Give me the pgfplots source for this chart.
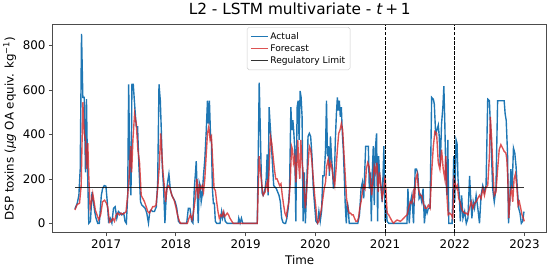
\documentclass[border=0pt]{standalone}
\usepackage{pgfplots}
\pgfplotsset{compat=1.18}
\usepackage{fontspec}
\setmainfont{DejaVu Sans}
\definecolor{tabblue}{HTML}{1F77B4}
\definecolor{tabred}{HTML}{D62728}
\begin{document}
\begin{tikzpicture}
\begin{axis}[
 scale only axis, width=500bp, height=210.6bp,
 xmin=2016.23, xmax=2023.32, ymin=-42.6, ymax=895,
 xtick={2017,2018,2019,2020,2021,2022,2023}, ytick={0,200,400,600,800},
 xticklabel style={/pgf/number format/1000 sep={}},
 /pgf/number format/assume math mode=true,
 tick align=outside, major tick length=3.5bp,
 tick style={black!70, line width=0.8bp},
 xtick pos=bottom, ytick pos=left,
 axis line style={black!70, line width=0.8bp},
 ticklabel style={font=\fontsize{12bp}{14bp}\selectfont},
 label style={font=\fontsize{12bp}{14bp}\selectfont},
 title style={font=\fontsize{15.5bp}{17bp}\selectfont},
 title={L2 - LSTM multivariate - \textit{t}\,+\,1},
 xlabel={Time},
 ylabel={DSP toxins (\textit{μg} OA equiv. kg\textsuperscript{−1})},
 legend style={at={(0.498,0.988)}, anchor=north, font=\fontsize{9.2bp}{11bp}\selectfont,
   draw=black!20, rounded corners=2bp, fill=white, fill opacity=0.8, text opacity=1,
   draw opacity=1, cells={anchor=west}, inner sep=3bp},
 legend image post style={line width=1.5bp},
]
\addplot[tabblue, line width=1.4bp] table {
2016.552 65
2016.585 90
2016.609 126
2016.628 244
2016.647 853
2016.666 567
2016.685 567
2016.704 229
2016.718 559
2016.732 258
2016.751 0
2016.775 9
2016.798 141
2016.817 97
2016.836 53
2016.855 23
2016.879 0
2016.902 0
2016.931 126
2016.949 156
2016.973 170
2016.997 167
2017.016 97
2017.035 9
2017.058 23
2017.082 1
2017.106 68
2017.129 75
2017.153 23
2017.176 53
2017.200 46
2017.224 38
2017.252 46
2017.271 9
2017.290 0
2017.309 126
2017.323 626
2017.342 185
2017.356 126
2017.370 626
2017.389 626
2017.408 537
2017.432 435
2017.451 435
2017.470 258
2017.493 97
2017.512 82
2017.536 75
2017.559 68
2017.583 46
2017.607 1
2017.626 53
2017.644 60
2017.668 53
2017.692 53
2017.720 75
2017.739 185
2017.758 626
2017.777 552
2017.791 420
2017.805 258
2017.824 156
2017.843 1
2017.862 126
2017.881 185
2017.900 222
2017.919 156
2017.942 126
2017.966 112
2017.990 97
2018.013 68
2018.037 9
2018.061 0
2018.155 0
2018.179 68
2018.202 68
2018.226 9
2018.245 1
2018.264 156
2018.278 214
2018.292 280
2018.306 141
2018.321 1
2018.335 185
2018.349 170
2018.363 97
2018.377 126
2018.396 214
2018.415 288
2018.434 405
2018.453 552
2018.467 449
2018.481 552
2018.496 405
2018.510 361
2018.524 156
2018.538 90
2018.552 90
2018.566 9
2018.585 0
2018.633 0
2018.656 53
2018.670 23
2018.689 46
2018.708 9
2018.737 0
2018.893 0
2018.902 23
2018.921 1
2018.940 23
2018.959 0
2019.167 0
2019.181 302
2019.195 633
2019.209 449
2019.224 229
2019.238 134
2019.252 126
2019.266 141
2019.280 156
2019.295 200
2019.309 310
2019.323 126
2019.337 523
2019.351 449
2019.366 376
2019.384 273
2019.403 170
2019.422 163
2019.441 156
2019.460 141
2019.479 126
2019.498 97
2019.517 23
2019.536 4
2019.555 0
2019.574 0
2019.592 23
2019.611 68
2019.630 156
2019.649 523
2019.663 420
2019.678 464
2019.692 405
2019.706 332
2019.720 9
2019.739 523
2019.753 552
2019.767 376
2019.782 596
2019.796 567
2019.810 479
2019.824 9
2019.843 229
2019.857 0
2019.876 156
2019.895 391
2019.914 405
2019.933 391
2019.952 302
2019.971 156
2019.990 82
2020.009 9
2020.032 0
2020.051 53
2020.070 9
2020.089 53
2020.108 214
2020.127 214
2020.146 332
2020.160 552
2020.174 302
2020.188 347
2020.202 214
2020.217 391
2020.231 302
2020.245 244
2020.259 156
2020.273 200
2020.287 376
2020.302 493
2020.316 567
2020.330 508
2020.344 552
2020.358 479
2020.373 523
2020.387 405
2020.401 332
2020.415 214
2020.429 82
2020.444 0
2020.458 97
2020.472 68
2020.486 0
2020.609 0
2020.633 38
2020.656 156
2020.675 185
2020.694 112
2020.708 229
2020.722 347
2020.741 347
2020.760 347
2020.774 156
2020.789 229
2020.803 9
2020.817 229
2020.831 347
2020.845 82
2020.860 332
2020.878 405
2020.893 9
2020.907 302
2020.921 229
2020.959 97
2020.983 347
2021.001 9
2021.016 68
2021.030 9
2021.053 0
2021.314 0
2021.328 156
2021.347 0
2021.366 97
2021.384 126
2021.408 0
2021.432 244
2021.451 244
2021.470 222
2021.488 112
2021.507 126
2021.526 97
2021.545 156
2021.564 0
2021.583 68
2021.602 46
2021.621 68
2021.645 68
2021.668 567
2021.692 559
2021.706 537
2021.725 405
2021.744 420
2021.763 442
2021.777 391
2021.791 258
2021.810 449
2021.829 523
2021.843 618
2021.857 449
2021.871 229
2021.886 126
2021.900 376
2021.914 0
2021.961 0
2021.985 302
2021.999 97
2022.018 376
2022.032 361
2022.046 200
2022.065 126
2022.079 9
2022.098 126
2022.117 23
2022.141 53
2022.165 0
2022.188 23
2022.212 214
2022.226 126
2022.245 23
2022.264 97
2022.283 68
2022.306 126
2022.330 68
2022.354 0
2022.377 126
2022.401 170
2022.425 141
2022.448 170
2022.472 559
2022.496 552
2022.519 376
2022.543 156
2022.566 97
2022.590 156
2022.614 552
2022.708 552
2022.722 493
2022.737 464
2022.756 317
2022.770 0
2022.789 97
2022.803 244
2022.822 156
2022.841 339
2022.860 317
2022.878 258
2022.897 156
2022.916 68
2022.935 46
2022.954 0
2022.973 9
2022.992 53
};
\addlegendentry{Actual}
\addplot[tabred, opacity=0.8, line width=1.4bp] table {
2016.552 60
2016.585 85
2016.618 90
2016.642 170
2016.666 545
2016.685 405
2016.704 376
2016.718 244
2016.737 361
2016.751 214
2016.770 68
2016.789 97
2016.808 134
2016.827 97
2016.845 60
2016.869 38
2016.893 16
2016.921 38
2016.949 97
2016.978 104
2017.006 90
2017.025 68
2017.049 4
2017.072 9
2017.096 23
2017.120 9
2017.143 38
2017.167 46
2017.191 38
2017.214 46
2017.238 41
2017.262 46
2017.285 53
2017.309 126
2017.328 200
2017.351 347
2017.366 229
2017.384 376
2017.408 493
2017.432 449
2017.455 332
2017.479 273
2017.503 126
2017.526 112
2017.550 97
2017.574 75
2017.597 53
2017.621 46
2017.644 60
2017.668 75
2017.692 75
2017.715 82
2017.739 156
2017.763 258
2017.782 405
2017.796 332
2017.815 229
2017.834 170
2017.853 97
2017.871 156
2017.890 170
2017.909 163
2017.928 141
2017.952 119
2017.975 104
2017.999 75
2018.023 38
2018.051 9
2018.070 0
2018.165 0
2018.188 23
2018.207 38
2018.231 16
2018.254 53
2018.278 112
2018.302 200
2018.321 112
2018.340 170
2018.358 156
2018.377 170
2018.396 141
2018.415 200
2018.434 302
2018.453 405
2018.472 435
2018.491 376
2018.510 391
2018.529 273
2018.548 156
2018.566 148
2018.585 97
2018.604 53
2018.623 23
2018.642 38
2018.661 31
2018.680 53
2018.699 31
2018.718 38
2018.737 46
2018.756 38
2018.775 23
2018.803 9
2018.822 0
2019.167 0
2019.181 156
2019.195 302
2019.209 244
2019.224 200
2019.238 156
2019.252 126
2019.266 134
2019.280 141
2019.295 170
2019.309 185
2019.323 141
2019.337 244
2019.356 391
2019.375 361
2019.394 302
2019.413 244
2019.432 200
2019.451 200
2019.470 185
2019.488 170
2019.507 178
2019.526 126
2019.545 82
2019.564 46
2019.583 31
2019.602 68
2019.621 97
2019.640 185
2019.659 347
2019.673 332
2019.687 273
2019.706 302
2019.720 185
2019.734 258
2019.748 376
2019.763 258
2019.777 200
2019.791 376
2019.810 273
2019.824 229
2019.838 156
2019.857 68
2019.876 156
2019.895 258
2019.914 347
2019.933 332
2019.952 273
2019.971 200
2019.990 126
2020.009 68
2020.020 23
2020.032 1
2020.051 9
2020.070 38
2020.089 68
2020.108 112
2020.127 156
2020.146 185
2020.164 258
2020.183 288
2020.202 244
2020.221 273
2020.240 244
2020.259 200
2020.278 170
2020.297 244
2020.316 332
2020.335 405
2020.354 420
2020.373 449
2020.392 420
2020.410 317
2020.429 214
2020.448 112
2020.467 68
2020.486 46
2020.505 46
2020.524 38
2020.543 38
2020.562 23
2020.581 9
2020.600 9
2020.618 23
2020.637 68
2020.656 97
2020.675 141
2020.694 170
2020.713 156
2020.732 244
2020.751 273
2020.770 258
2020.789 200
2020.808 126
2020.826 185
2020.845 258
2020.864 229
2020.883 273
2020.902 141
2020.921 229
2020.959 112
2020.983 156
2021.001 214
2021.016 126
2021.030 46
2021.053 38
2021.077 23
2021.101 9
2021.124 1
2021.148 9
2021.172 15
2021.195 12
2021.219 9
2021.243 15
2021.266 23
2021.290 31
2021.314 38
2021.337 68
2021.361 97
2021.384 90
2021.408 141
2021.422 112
2021.441 200
2021.460 222
2021.479 156
2021.503 126
2021.526 126
2021.550 90
2021.574 68
2021.597 68
2021.621 82
2021.645 68
2021.668 229
2021.692 347
2021.715 413
2021.739 405
2021.763 273
2021.786 244
2021.810 332
2021.834 244
2021.857 200
2021.871 302
2021.890 112
2021.905 38
2021.928 46
2021.952 38
2021.971 23
2021.990 200
2022.004 185
2022.018 156
2022.037 170
2022.056 112
2022.075 97
2022.094 68
2022.117 53
2022.141 46
2022.165 46
2022.188 38
2022.212 68
2022.235 97
2022.259 68
2022.283 90
2022.306 97
2022.330 112
2022.354 126
2022.377 112
2022.401 156
2022.425 126
2022.448 163
2022.472 170
2022.496 302
2022.510 479
2022.529 376
2022.548 229
2022.566 126
2022.590 141
2022.614 244
2022.637 332
2022.661 354
2022.685 339
2022.708 324
2022.732 317
2022.746 288
2022.760 200
2022.775 23
2022.793 126
2022.812 156
2022.831 97
2022.850 200
2022.869 222
2022.888 170
2022.907 82
2022.926 97
2022.945 68
2022.964 38
2022.982 23
2022.997 9
};
\addlegendentry{Forecast}
\addplot[black, opacity=0.8, line width=1.4bp] coordinates {(2016.552,160) (2022.997,160)};
\addlegendentry{Regulatory Limit}
\addplot[black, line width=0.95bp, dash pattern=on 3.5bp off 1.5bp, forget plot] coordinates {(2021,-42.6) (2021,895)};
\addplot[black, line width=0.95bp, dash pattern=on 3.5bp off 1.5bp, forget plot] coordinates {(2022,-42.6) (2022,895)};
\end{axis}
\path ([shift={(-46.8bp,-35bp)}]current axis.south west) rectangle ([shift={(4.2bp,20.4bp)}]current axis.north east);
\end{tikzpicture}
\end{document}
